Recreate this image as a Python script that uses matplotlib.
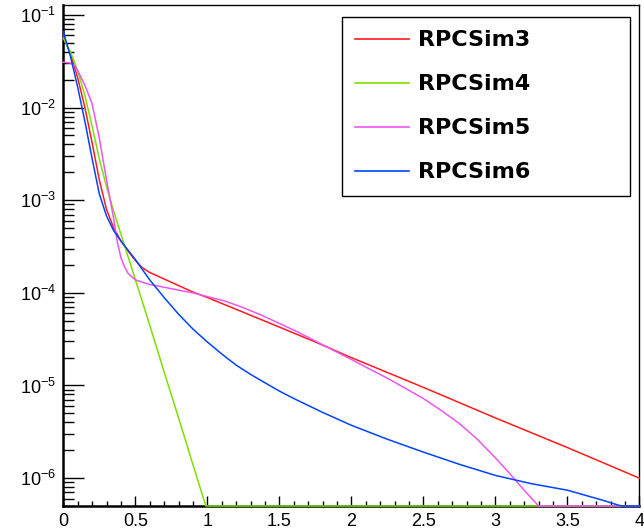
import numpy as np
import matplotlib
matplotlib.use("Agg")
import matplotlib.pyplot as plt
from matplotlib.ticker import MultipleLocator, LogLocator, NullFormatter

plt.rcParams['font.family'] = ['Liberation Sans', 'DejaVu Sans']
plt.rcParams['mathtext.fontset'] = 'custom'
plt.rcParams['mathtext.rm'] = 'Liberation Sans'
plt.rcParams['mathtext.it'] = 'Liberation Sans:italic'
plt.rcParams['mathtext.bf'] = 'Liberation Sans:bold'

# ---- data (0 = empty bin) ----
x_sim3 = [0, 0.05, 0.1, 0.15, 0.2, 0.25, 0.3, 0.35, 0.4, 0.45, 0.5, 0.55, 0.6, 0.7, 0.8,
          0.9, 1.0, 1.25, 1.5, 1.75, 2.0, 2.5, 3.0, 3.5, 4.0]
y_sim3 = [6.03e-2, 3.80e-2, 2.09e-2, 1.0e-2, 4.17e-3, 1.66e-3, 7.94e-4, 5.01e-4, 3.63e-4,
          2.82e-4, 2.24e-4, 1.86e-4, 1.66e-4, 1.41e-4, 1.20e-4, 1.02e-4, 8.91e-5, 6.17e-5,
          4.27e-5, 2.95e-5, 2.0e-5, 9.55e-6, 4.47e-6, 2.14e-6, 1.0e-6]

x_sim4 = [0, 0.05, 0.1, 0.15, 0.2, 0.25, 0.3, 0.35, 0.4, 0.45, 0.5, 0.6, 0.7, 0.8, 0.9,
          0.95, 0.99, 1.0, 4.0]
y_sim4 = [5.6e-2, 4.0e-2, 2.5e-2, 1.35e-2, 6.3e-3, 2.8e-3, 1.4e-3, 7.6e-4, 4.3e-4, 2.45e-4,
          1.4e-4, 4.5e-5, 1.4e-5, 4.5e-6, 1.4e-6, 7.9e-7, 5.0e-7, 0, 0]

x_sim5 = [0, 0.05, 0.08, 0.1, 0.15, 0.2, 0.25, 0.3, 0.35, 0.375, 0.4, 0.425, 0.45, 0.5,
          0.6, 0.7, 0.8, 0.9, 1.0, 1.125, 1.25, 1.375, 1.5, 1.625, 1.75, 1.875, 2.0, 2.125,
          2.25, 2.375, 2.5, 2.625, 2.75, 2.875, 3.0, 3.1, 3.2, 3.3, 3.35, 4.0]
y_sim5 = [3.09e-2, 3.02e-2, 2.82e-2, 2.51e-2, 1.74e-2, 1.10e-2, 4.68e-3, 1.66e-3, 6.31e-4,
          3.55e-4, 2.40e-4, 1.91e-4, 1.62e-4, 1.38e-4, 1.23e-4, 1.15e-4, 1.07e-4, 1.0e-4,
          9.12e-5, 8.13e-5, 6.92e-5, 5.75e-5, 4.68e-5, 3.80e-5, 3.02e-5, 2.40e-5, 1.91e-5,
          1.51e-5, 1.20e-5, 9.33e-6, 7.24e-6, 5.37e-6, 3.89e-6, 2.63e-6, 1.66e-6, 1.12e-6,
          7.41e-7, 5.01e-7, 0, 0]

x_sim6 = [0, 0.05, 0.1, 0.15, 0.2, 0.25, 0.3, 0.35, 0.4, 0.45, 0.5, 0.55, 0.6, 0.7, 0.8,
          0.9, 1.0, 1.1, 1.2, 1.3, 1.4, 1.5, 1.6, 1.8, 2.0, 2.25, 2.5, 2.75, 3.0, 3.25,
          3.5, 3.75, 3.85, 3.88, 4.0]
y_sim6 = [6.61e-2, 3.55e-2, 1.66e-2, 7.08e-3, 2.82e-3, 1.17e-3, 6.76e-4, 4.68e-4, 3.63e-4,
          2.88e-4, 2.29e-4, 1.78e-4, 1.38e-4, 8.91e-5, 5.89e-5, 4.07e-5, 2.95e-5, 2.19e-5,
          1.66e-5, 1.32e-5, 1.07e-5, 8.71e-6, 7.24e-6, 5.13e-6, 3.72e-6, 2.63e-6, 1.91e-6,
          1.41e-6, 1.07e-6, 8.71e-7, 7.41e-7, 5.75e-7, 5.13e-7, 0, 0]

series = [
    ("RPCSim3", x_sim3, y_sim3, "#ff1a1a"),
    ("RPCSim4", x_sim4, y_sim4, "#7ee000"),
    ("RPCSim5", x_sim5, y_sim5, "#ee55f0"),
    ("RPCSim6", x_sim6, y_sim6, "#0044ff"),
]

ymin, ymax = 5.0e-7, 0.128

fig = plt.figure(figsize=(6.44, 5.29), dpi=100)
ax = fig.add_axes([63.3 / 644, 1 - 506 / 529, 576 / 644, 501 / 529])

for name, xs, ys, col in series:
    yy = np.clip(np.asarray(ys, dtype=float), ymin, None)
    ax.plot(xs, yy, color=col, lw=1.1, label=name, clip_on=False, zorder=3)

ax.set_yscale('log')
ax.set_xlim(0, 4)
ax.set_ylim(ymin, ymax)

ax.xaxis.set_minor_locator(MultipleLocator(0.1))
ax.set_xticks([0, 0.5, 1, 1.5, 2, 2.5, 3, 3.5, 4])
ax.set_xticklabels(["0", "0.5", "1", "1.5", "2", "2.5", "3", "3.5", "4"])
ax.yaxis.set_major_locator(LogLocator(base=10, numticks=20))
ax.yaxis.set_minor_locator(LogLocator(base=10, subs=np.arange(2, 10), numticks=20))
ax.yaxis.set_minor_formatter(NullFormatter())

ax.tick_params(axis='x', which='major', direction='in', length=7.5, width=1,
               labelsize=13, pad=5, top=False)
ax.tick_params(axis='x', which='minor', direction='in', length=3.7, width=1, top=False)
ax.tick_params(axis='y', which='major', direction='in', length=15, width=1,
               labelsize=13, pad=5, right=False)
ax.tick_params(axis='y', which='minor', direction='in', length=8, width=1, right=False)

for s in ['left', 'bottom']:
    ax.spines[s].set_linewidth(1.8)
for s in ['top', 'right']:
    ax.spines[s].set_linewidth(1.0)

x0 = (342 - 63.3) / 576
w = (630 - 342) / 576
ytop = (506 - 17) / 501
leg = ax.legend(loc='upper left', bbox_to_anchor=(x0, ytop - 0.3, w, 0.3), mode='expand',
                borderaxespad=0, fancybox=False, framealpha=1, edgecolor='black',
                prop={'family': 'DejaVu Sans', 'weight': 'bold', 'size': 16},
                handlelength=2.4, handletextpad=0.4, labelspacing=1.08, borderpad=0.6)
leg.get_frame().set_linewidth(1.0)
for line in leg.get_lines():
    line.set_linewidth(1.2)

fig.savefig("out.png", dpi=100)
